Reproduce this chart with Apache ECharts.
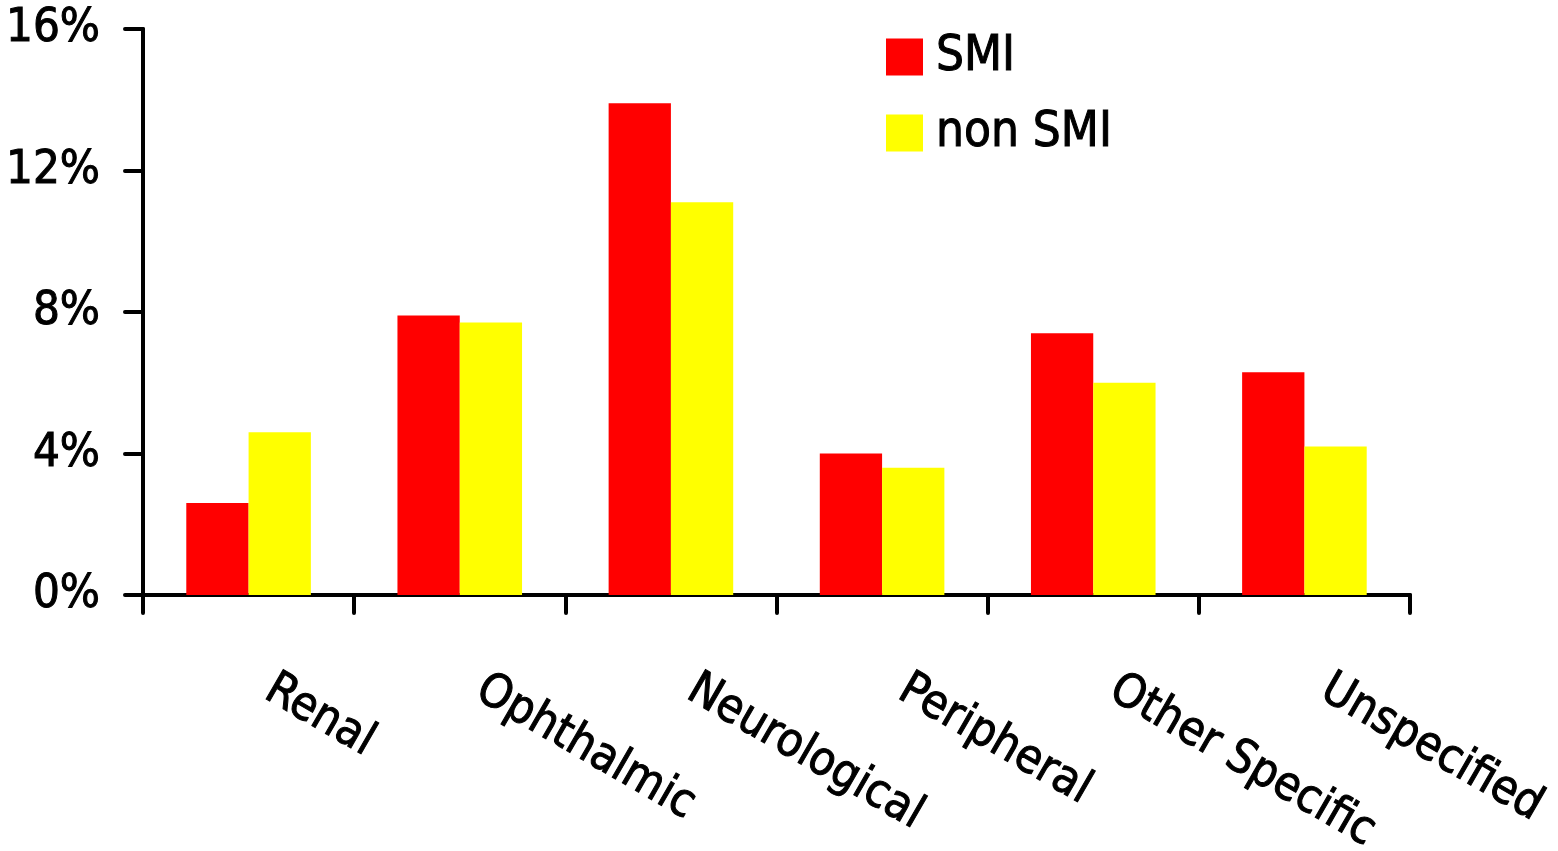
<!DOCTYPE html>
<html>
<head>
<meta charset="utf-8">
<script src="https://cdn.jsdelivr.net/npm/echarts@6/dist/echarts.min.js"></script>
<style>
html,body{margin:0;padding:0;background:#fff;}
#chart{width:1558px;height:851px;}
</style>
</head>
<body>
<div id="chart"></div>
<script>
const categories = ['Renal', 'Ophthalmic', 'Neurological', 'Peripheral', 'Other Specific', 'Unspecified'];
const smiValues = [2.6, 7.9, 13.9, 4.0, 7.4, 6.3];
const nonSmiValues = [4.6, 7.7, 11.1, 3.6, 6.0, 4.2];
const seriesNames = ['SMI', 'non SMI'];
const yTicks = [0, 4, 8, 12, 16];

const FONT = '"Liberation Sans Narrow", "Arial Narrow", "DejaVu Sans Condensed", sans-serif';
const FS = 47;
const chart = echarts.init(document.getElementById('chart'), null, {renderer: 'canvas'});
chart.setOption({
  animation: false,
  backgroundColor: '#ffffff',
  grid: {left: 143, right: 148, top: 29, bottom: 256, containLabel: false, outerBoundsMode: 'none'},
  legend: {
    orient: 'vertical',
    left: 881,
    top: 27,
    itemWidth: 37,
    itemHeight: 37,
    itemGap: 26,
    icon: 'rect',
    textStyle: {fontFamily: FONT, fontSize: 49, color: '#000', textBorderColor: '#000', textBorderWidth: 1, padding: [0, 0, 0, 8]},
    data: seriesNames
  },
  xAxis: {
    type: 'category',
    data: categories,
    axisLine: {lineStyle: {color: '#000', width: 4, cap: 'round'}},
    axisTick: {show: true, length: 18, lineStyle: {color: '#000', width: 4, cap: 'round'}, alignWithLabel: false},
    axisLabel: {
      rotate: -30,
      interval: 0,
      margin: 80,
      align: 'left',
      verticalAlign: 'middle',
      padding: [0, 0, 0, 23],
      fontFamily: FONT,
      fontSize: FS,
      color: '#000',
      textBorderColor: '#000',
      textBorderWidth: 1
    }
  },
  yAxis: {
    type: 'value',
    min: 0,
    max: 16,
    interval: 4,
    splitLine: {show: false},
    axisLine: {show: true, lineStyle: {color: '#000', width: 4, cap: 'round'}},
    axisTick: {show: true, length: 18, lineStyle: {color: '#000', width: 4, cap: 'round'}},
    axisLabel: {
      margin: 43,
      fontFamily: FONT,
      fontSize: FS,
      color: '#000',
      textBorderColor: '#000',
      textBorderWidth: 1,
      formatter: function (v) { return yTicks.indexOf(v) >= 0 ? v + '%' : ''; }
    }
  },
  series: [
    {name: seriesNames[0], type: 'bar', data: smiValues, itemStyle: {color: '#ff0000'}, barGap: '0%', barCategoryGap: '41%'},
    {name: seriesNames[1], type: 'bar', data: nonSmiValues, itemStyle: {color: '#ffff00'}, barGap: '0%', barCategoryGap: '41%'}
  ]
});
</script>
</body>
</html>
